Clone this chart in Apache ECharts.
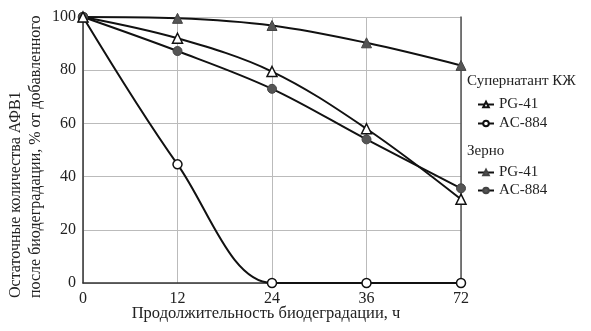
<!DOCTYPE html>
<html><head><meta charset="utf-8">
<script src="https://cdn.jsdelivr.net/npm/echarts@6/dist/echarts.min.js"></script>
<style>html,body{margin:0;padding:0;background:#fff}#c{width:591px;height:331px}</style>
</head><body><div id="c"></div>
<script>
const categories = ['0','12','24','36','72'];
const supPG41 = [100, 92, 79.5, 58, 31.5];
const supAC884 = [100, 44.6, 0, 0, 0];
const grainPG41 = [100, 99.5, 96.8, 90.3, 81.8];
const grainAC884 = [100, 87.2, 73, 54, 35.6];
const yTicks = {min: 0, max: 100, interval: 20};
const headerSup = 'Супернатант КЖ';
const headerGrain = 'Зерно';
const yTitle = ['Остаточные количества АФВ1', 'после биодеградации, % от добавленного'];
const xTitle = 'Продолжительность биодеградации, ч';

const FONT = '"Liberation Serif", "DejaVu Serif", serif';
const chart = echarts.init(document.getElementById('c'));
function ser(name, data, symbol, fill) {
  return {
    name, type: 'line', data, smooth: 0.35, symbol, symbolSize: symbol === 'triangle' ? 10 : 9,
    lineStyle: {color: '#111', width: 2},
    itemStyle: {color: fill, borderColor: fill === '#fff' ? '#111' : '#444', borderWidth: fill === '#fff' ? 1.5 : 1},
    emphasis: {disabled: true}
  };
}
const legendCommon = {
  orient: 'vertical', left: 472, itemWidth: 16, itemHeight: 7, itemGap: 4,
  textStyle: {fontFamily: FONT, fontSize: 15, color: '#222'},
  formatter: n => n.split('|')[1], selectedMode: false
};
chart.setOption({
  animation: false,
  grid: {left: 83, right: 130, top: 17, bottom: 48},
  xAxis: {
    type: 'category', data: categories, boundaryGap: false,
    axisLine: {lineStyle: {color: '#333', width: 1.5}},
    axisTick: {show: false},
    axisLabel: {fontFamily: FONT, fontSize: 16, color: '#222', margin: 8},
    splitLine: {show: true, lineStyle: {color: '#bbb', width: 1}}
  },
  yAxis: [{
    type: 'value', min: yTicks.min, max: yTicks.max, interval: yTicks.interval,
    axisLine: {show: true, lineStyle: {color: '#333', width: 1.5}},
    axisTick: {show: false},
    axisLabel: {fontFamily: FONT, fontSize: 16, color: '#222', margin: 7},
    splitLine: {lineStyle: {color: '#bbb', width: 1}}
  }, {
    type: 'value', min: yTicks.min, max: yTicks.max, interval: yTicks.interval, position: 'right',
    axisLine: {show: true, lineStyle: {color: '#555', width: 1.5}},
    axisTick: {show: false}, axisLabel: {show: false}, splitLine: {show: false}
  }],
  legend: [
    Object.assign({}, legendCommon, {top: 92, data: ['Супернатант|PG-41', 'Супернатант|AC-884']}),
    Object.assign({}, legendCommon, {top: 160, itemGap: 3, data: ['Зерно|PG-41', 'Зерно|AC-884']})
  ],
  graphic: [
    {type: 'text', left: 467, top: 74, style: {text: headerSup, font: '15px ' + FONT, fill: '#222'}},
    {type: 'text', left: 467, top: 144, style: {text: headerGrain, font: '15px ' + FONT, fill: '#222'}},
    {type: 'text', x: 16, y: 298, rotation: Math.PI / 2,
      style: {text: yTitle[0], font: '16px ' + FONT, fill: '#222', align: 'left', verticalAlign: 'middle'}},
    {type: 'text', x: 36, y: 298, rotation: Math.PI / 2,
      style: {text: yTitle[1], font: '16px ' + FONT, fill: '#222', align: 'left', verticalAlign: 'middle'}},
    {type: 'text', x: 266, y: 314,
      style: {text: xTitle, font: '16.5px ' + FONT, fill: '#222', align: 'center', verticalAlign: 'middle'}}
  ],
  series: [
    ser('Супернатант|AC-884', supAC884, 'circle', '#fff'),
    ser('Зерно|PG-41', grainPG41, 'triangle', '#555'),
    ser('Зерно|AC-884', grainAC884, 'circle', '#555'),
    ser('Супернатант|PG-41', supPG41, 'triangle', '#fff')
  ]
});
</script></body></html>
